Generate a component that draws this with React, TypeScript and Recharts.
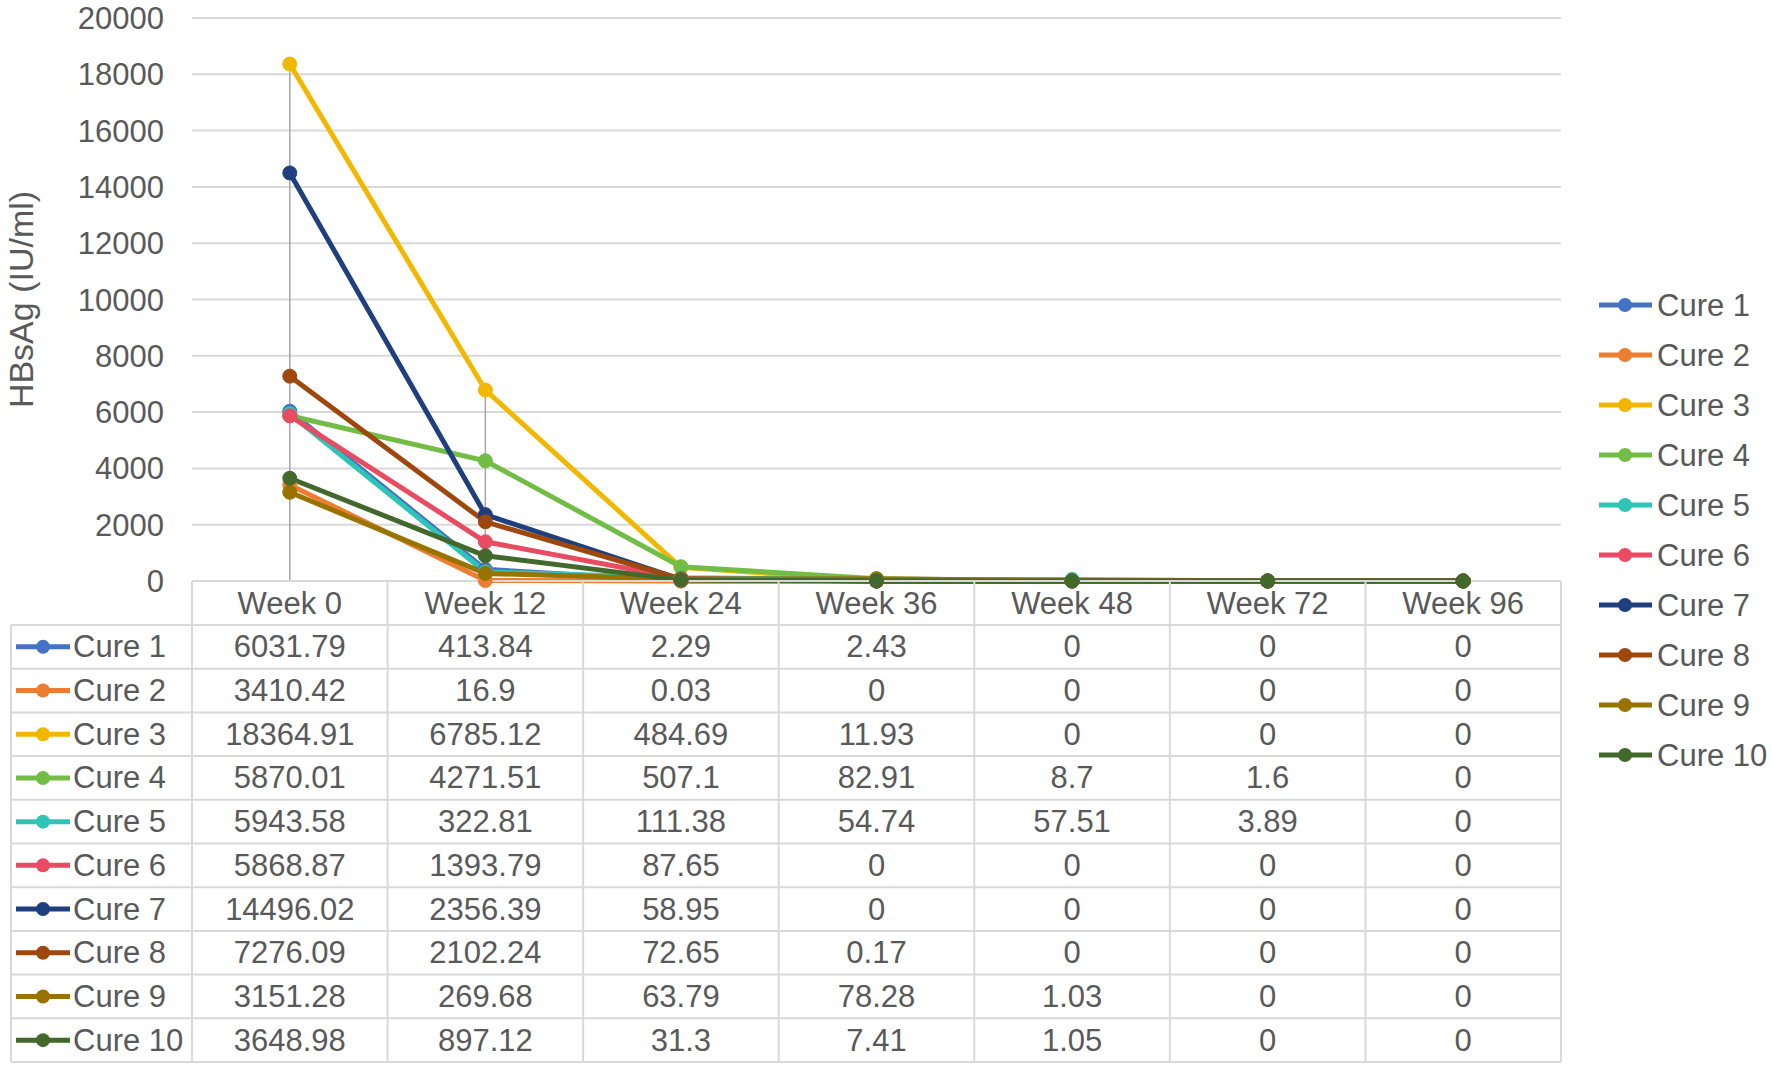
import { LineChart, Line, XAxis, YAxis, CartesianGrid, ReferenceLine, Label } from 'recharts';

// ---- data ----
const weeks = ['Week 0', 'Week 12', 'Week 24', 'Week 36', 'Week 48', 'Week 72', 'Week 96'];

const cure1 = [6031.79, 413.84, 2.29, 2.43, 0, 0, 0];
const cure2 = [3410.42, 16.9, 0.03, 0, 0, 0, 0];
const cure3 = [18364.91, 6785.12, 484.69, 11.93, 0, 0, 0];
const cure4 = [5870.01, 4271.51, 507.1, 82.91, 8.7, 1.6, 0];
const cure5 = [5943.58, 322.81, 111.38, 54.74, 57.51, 3.89, 0];
const cure6 = [5868.87, 1393.79, 87.65, 0, 0, 0, 0];
const cure7 = [14496.02, 2356.39, 58.95, 0, 0, 0, 0];
const cure8 = [7276.09, 2102.24, 72.65, 0.17, 0, 0, 0];
const cure9 = [3151.28, 269.68, 63.79, 78.28, 1.03, 0, 0];
const cure10 = [3648.98, 897.12, 31.3, 7.41, 1.05, 0, 0];

const seriesNames = ['Cure 1', 'Cure 2', 'Cure 3', 'Cure 4', 'Cure 5', 'Cure 6', 'Cure 7', 'Cure 8', 'Cure 9', 'Cure 10'];
const seriesValues = [cure1, cure2, cure3, cure4, cure5, cure6, cure7, cure8, cure9, cure10];

const yTicks = [0, 2000, 4000, 6000, 8000, 10000, 12000, 14000, 16000, 18000, 20000];

// ---- styles ----
const COLORS = ['#4472c4', '#ed7d31', '#f2b800', '#72bd45', '#2ec4b6', '#e94b62', '#1f3f7f', '#9e480e', '#997300', '#43682b'];
const FONT = '"Liberation Sans", Arial, sans-serif';
const TEXT = '#595959';
const GRID = '#d9d9d9';

const W = 1772;
const H = 1069;
const PLOT_L = 192;
const PLOT_R = 1561;
const PLOT_T = 18;
const PLOT_B = 581;
const COL_W = (PLOT_R - PLOT_L) / weeks.length;
const HEAD_H = 44;
const ROW_H = 43.7;
const TABLE_L = 11;
const FS = 31;

const rows = weeks.map((week, i) => {
  const row: Record<string, string | number> = { week };
  seriesNames.forEach((name, s) => {
    row[name] = seriesValues[s][i];
  });
  return row;
});

const colMax = weeks.map((_, i) => Math.max(...seriesValues.map((v) => v[i])));

function YTitle({ viewBox }: any) {
  const cy = viewBox.y + viewBox.height / 2;
  return (
    <text
      x={21}
      y={cy}
      transform={`rotate(-90, 21, ${cy})`}
      textAnchor="middle"
      dominantBaseline="central"
      fill={TEXT}
      fontSize={34}
      fontFamily={FONT}
    >
      HBsAg (IU/ml)
    </text>
  );
}

function DataTable() {
  const top = PLOT_B + HEAD_H;
  const bottom = top + ROW_H * seriesNames.length;
  return (
    <svg
      width={W}
      height={H}
      style={{ position: 'absolute', left: 0, top: 0, pointerEvents: 'none' }}
    >
      {weeks.map((_, k) => (
        <line key={`v${k}`} x1={PLOT_L + k * COL_W} x2={PLOT_L + k * COL_W} y1={PLOT_B} y2={bottom} stroke={GRID} strokeWidth={2} />
      ))}
      <line x1={PLOT_R} x2={PLOT_R} y1={PLOT_B} y2={bottom} stroke={GRID} strokeWidth={2} />
      <line x1={TABLE_L} x2={TABLE_L} y1={top} y2={bottom} stroke={GRID} strokeWidth={2} />
      <line x1={TABLE_L} x2={PLOT_R} y1={top} y2={top} stroke={GRID} strokeWidth={2} />

      {seriesNames.map((name, s) => {
        const y0 = top + s * ROW_H;
        const cy = y0 + ROW_H / 2;
        return (
          <g key={name}>
            <line x1={TABLE_L} x2={PLOT_R} y1={y0 + ROW_H} y2={y0 + ROW_H} stroke={GRID} strokeWidth={2} />
            <line x1={16} x2={70} y1={cy} y2={cy} stroke={COLORS[s]} strokeWidth={5} />
            <circle cx={43} cy={cy} r={7} fill={COLORS[s]} />
            <text x={73} y={cy} dominantBaseline="central" fill={TEXT} fontSize={FS} fontFamily={FONT}>
              {name}
            </text>
            {seriesValues[s].map((v, i) => (
              <text
                key={i}
                x={PLOT_L + (i + 0.5) * COL_W}
                y={cy}
                textAnchor="middle"
                dominantBaseline="central"
                fill={TEXT}
                fontSize={FS}
                fontFamily={FONT}
              >
                {String(v)}
              </text>
            ))}
          </g>
        );
      })}

      {seriesNames.map((name, s) => {
        const cy = 305 + s * 50;
        return (
          <g key={`lg${name}`}>
            <line x1={1599} x2={1652} y1={cy} y2={cy} stroke={COLORS[s]} strokeWidth={5} />
            <circle cx={1625} cy={cy} r={7} fill={COLORS[s]} />
            <text x={1657} y={cy} dominantBaseline="central" fill={TEXT} fontSize={FS} fontFamily={FONT}>
              {name}
            </text>
          </g>
        );
      })}
    </svg>
  );
}

export default function App() {
  return (
    <div style={{ position: 'absolute', left: 0, top: 0, width: W, height: H, background: '#fff' }}>
      <LineChart
        width={W}
        height={H}
        data={rows}
        margin={{ top: PLOT_T, right: W - PLOT_R, left: 0, bottom: H - PLOT_B - 44 }}
      >
        <CartesianGrid vertical={false} stroke={GRID} strokeWidth={2} />
        <XAxis
          dataKey="week"
          height={44}
          interval={0}
          padding={{ left: COL_W / 2, right: COL_W / 2 }}
          axisLine={{ stroke: GRID, strokeWidth: 2 }}
          tickLine={false}
          tickSize={0}
          tickMargin={11}
          tick={{ fill: TEXT, fontSize: FS, fontFamily: FONT }}
        />
        <YAxis
          width={PLOT_L}
          domain={[0, 20000]}
          ticks={yTicks}
          interval={0}
          axisLine={false}
          tickLine={false}
          tickSize={0}
          tickMargin={28}
          tick={{ fill: TEXT, fontSize: FS, fontFamily: FONT }}
        >
          <Label content={YTitle} />
        </YAxis>
        {weeks.map((w, i) => (
          <ReferenceLine
            key={w}
            segment={[
              { x: w, y: 0 },
              { x: w, y: colMax[i] },
            ]}
            stroke="#a6a6a6"
            strokeWidth={1.5}
          />
        ))}
        {seriesNames.map((name, s) => (
          <Line
            key={name}
            type="linear"
            dataKey={name}
            stroke={COLORS[s]}
            strokeWidth={5}
            dot={{ r: 7, fill: COLORS[s], stroke: COLORS[s], strokeWidth: 1 }}
            activeDot={false}
            isAnimationActive={false}
          />
        ))}
      </LineChart>
      <DataTable />
    </div>
  );
}
